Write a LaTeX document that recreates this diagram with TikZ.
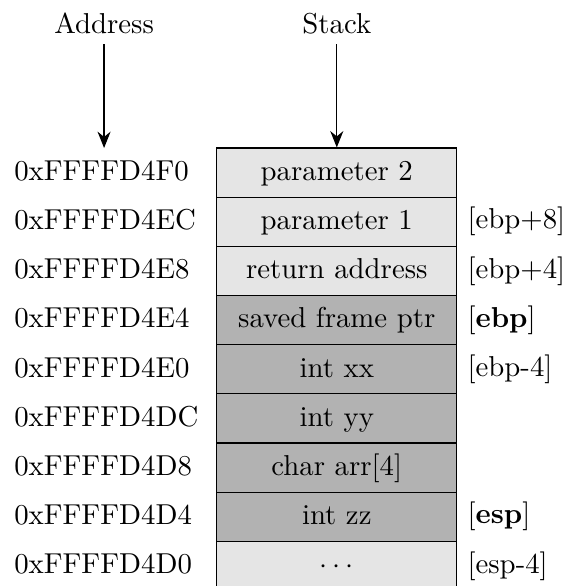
\documentclass[tikz,border=0pt]{standalone}
\usepackage{tikz}
\usetikzlibrary{arrows.meta}
\tikzset{>={Stealth[length=2mm,width=1.6mm]}}

\begin{document}
\begin{tikzpicture}[cell/.style = {draw, minimum width=2.93cm, minimum height=0.6cm, inner sep=0pt, text height=1.5ex, text depth=.25ex},
    light/.style = {cell, fill=gray!20},
    dark/.style = {cell, fill=gray!60},
    addr/.style = {anchor=west, text height=1.5ex, text depth=.25ex}]
\useasboundingbox (0,0) rectangle (6.895,-7.151);
    % titles
    \node (atitle) at (1.27,-0.29) {Address};
    \node (stitle) at (4.11,-0.29) {Stack};
    % stack cells
    \node[light] (r1) at (4.11,-2.106) {parameter 2};
    \node[light,label={right:[ebp+8]}] (r2) at (4.11,-2.706) {parameter 1};
    \node[light,label={right:[ebp+4]}] (r3) at (4.11,-3.306) {return address};
    \node[dark,label={right:[\textbf{ebp}]}] (r4) at (4.11,-3.906) {saved frame ptr};
    \node[dark,label={right:[ebp-4]}] (r5) at (4.11,-4.506) {int xx};
    \node[dark] (r6) at (4.11,-5.106) {int yy};
    \node[dark] (r7) at (4.11,-5.706) {char arr[4]};
    \node[dark,label={right:[\textbf{esp}]}] (r8) at (4.11,-6.306) {int zz};
    \node[light,label={right:[esp-4]}] (r9) at (4.11,-6.906) {$\cdots$};
    % addresses
    \node[addr] (a1) at (0.05,-2.106) {0xFFFFD4F0};
    \node[addr] (a2) at (0.05,-2.706) {0xFFFFD4EC};
    \node[addr] (a3) at (0.05,-3.306) {0xFFFFD4E8};
    \node[addr] (a4) at (0.05,-3.906) {0xFFFFD4E4};
    \node[addr] (a5) at (0.05,-4.506) {0xFFFFD4E0};
    \node[addr] (a6) at (0.05,-5.106) {0xFFFFD4DC};
    \node[addr] (a7) at (0.05,-5.706) {0xFFFFD4D8};
    \node[addr] (a8) at (0.05,-6.306) {0xFFFFD4D4};
    \node[addr] (a9) at (0.05,-6.906) {0xFFFFD4D0};
    % arrows
    \coordinate (atip) at (1.27,-1.806);
    \draw[->] (atitle) to (atip);
    \draw[->] (stitle) to (r1.north);
\end{tikzpicture}
\end{document}
